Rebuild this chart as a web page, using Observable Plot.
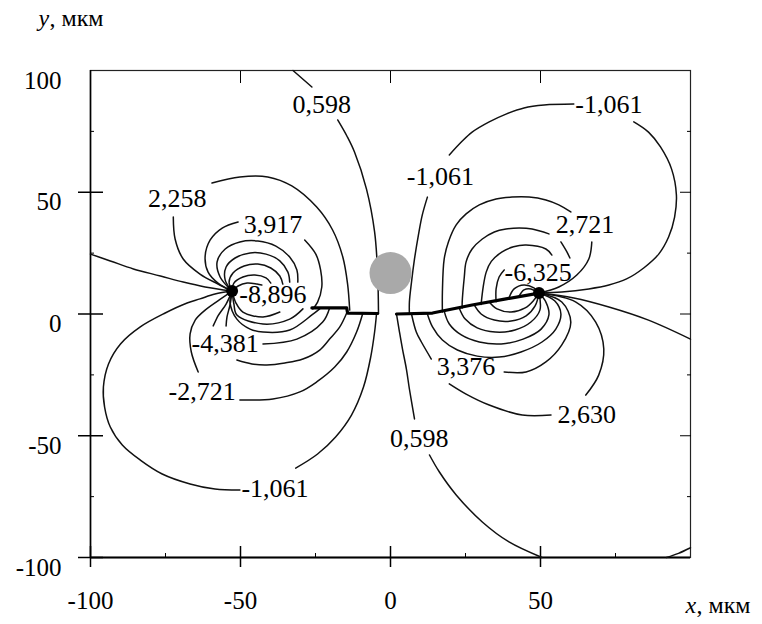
<!DOCTYPE html>
<html><head><meta charset="utf-8">
<script src="https://cdn.jsdelivr.net/npm/d3@7"></script>
<script src="https://cdn.jsdelivr.net/npm/@observablehq/plot@0.6"></script>
<style>body{margin:0;background:#fff}</style>
</head><body><div id="chart"></div>
<script>
// ---- tick values ----
const xTicks = [-100, -50, 0, 50];
const yTicks = [-100, -50, 0, 50, 100];
const crossTicksX = [-100, -50, 0, 50];
const crossTicksY = [-100, -50, 0, 50];
const innerTicks = [-50, 0, 50];
const minorTicks = [-75, -25, 25, 75];

// ---- singular points (crack tips) and inclusion ----
const tipX = [-52.8, 49.5];
const tipY = [9.4, 8.6];
const inclusionX = [0];
const inclusionY = [16.8];

// ---- crack lines (µm) ----
const crackLeft = [[-26.2,2.5],[-14.6,2.5],[-14.3,0.4],[-4.3,0.2]];
const crackRight = [[2.0,0],[14.0,0.4],[27.2,3.7],[38.5,6.2],[49.5,8.6]];

// ---- isolines (µm) ----
const line0598TopA = [[-32.5,100],[-26.2,93.2]];
const line0598TopB = [[-17.6,79.7],[-14.5,73],[-12,66.5],[-8,51.3],[-5.3,33.7],[-4.3,17.2],[-4,0.2]];
const lineLeftFrame = [[-100,24.6],[-93.4,21.8],[-85.7,18.5],[-76.7,15.6],[-69.1,13.1],[-61.8,11.1],[-52.8,9.4]];
const line2258A = [[-72.4,39.8],[-71.8,30.8],[-69.1,22.6],[-63.5,16.4],[-57.5,12.3],[-52.8,9.4]];
const line2258B = [[-59.5,53.8],[-50.2,56.3],[-40.9,56.3],[-32.9,52.6],[-24.6,43.9],[-19.3,34.5],[-15.9,23.4],[-14.3,12.3],[-13.6,1.6]];
const line3917A = [[-50.8,37.8],[-56.1,35.3],[-60.1,30.4],[-61.8,23.4],[-60.8,17.2],[-57.5,12.7],[-52.8,9.4]];
const line3917B = [[-28.6,30.4],[-24.9,24.6],[-23.3,18.1],[-22.9,11.1],[-24.3,4.9],[-25.9,2.1]];
const arcUL1 = [[-52.8,9.4],[-56.8,15.2],[-57.8,21.4],[-55.1,26.7],[-50.2,29.6],[-44.2,30.0],[-38.2,27.9],[-33.6,23.4],[-31.2,18.1],[-30.9,13.1]];
const arcUL2 = [[-52.8,9.4],[-55.1,13.9],[-54.8,19.3],[-51.8,23.0],[-46.8,25.1],[-41.5,24.6],[-36.9,21.8],[-34.2,17.2],[-33.6,13.1]];
const arcUL3 = [[-52.8,9.4],[-53.8,13.1],[-52.5,16.8],[-48.8,19.7],[-44.2,20.5],[-39.9,18.9],[-36.9,15.6],[-35.9,12.3]];
const arcUL4 = [[-52.8,9.4],[-52.2,12.7],[-49.2,15.2],[-45.2,16.0],[-41.5,14.8],[-39.9,12.7]];
const arcUL5 = [[-52.8,9.4],[-50.8,11.5],[-47.8,12.7],[-44.5,12.3],[-42.9,11.9]];
const line1061LA = [[-52.8,9.4],[-58.5,8.2],[-63.5,6.2],[-67.8,4.5],[-75.1,0.4],[-83.4,-5.3],[-90.0,-12.3],[-94.0,-20.5],[-95.7,-30.0],[-95.3,-38.2],[-93.4,-46.4],[-89.4,-53.8],[-83.4,-60.0],[-76.1,-65.7],[-66.8,-69.8],[-58.5,-71.9],[-50.2,-72.3]];
const line1061LB = [[-31.6,-63.3],[-24.3,-57.5],[-18.3,-50.5],[-13.0,-41.5],[-9.0,-30.0],[-6.6,-17.7],[-5.3,-7.4],[-4.7,-0.4]];
const line2721LA = [[-52.8,9.4],[-56.1,6.6],[-61.8,1.6],[-65.1,-2.5],[-66.8,-8.2],[-66.4,-15.6],[-64.1,-23.8]];
const line2721LB = [[-50.2,-35.3],[-39.2,-34.9],[-30.2,-32.0],[-24.6,-27.9],[-18.6,-21.8],[-14.6,-15.6],[-11.3,-7.4],[-9.3,0]];
const line4381LA = [[-52.8,9.4],[-54.8,4.1],[-57.5,-0.8],[-59.1,-4.9]];
const line4381LB = [[-42.5,-12.3],[-31.2,-10.3],[-22.6,-3.3],[-20.3,2.5]];
const arcLL1A = [[-52.8,9.4],[-53.5,3.7],[-54.5,-1.2],[-54.8,-4.9]];
const arcLL1B = [[-51.2,-18.9],[-46.2,-20.5],[-41.2,-20.9],[-35.2,-20.1],[-29.2,-18.5],[-23.6,-14.8],[-20.3,-10.3],[-16.9,-5.3],[-14.6,0.4]];
const arcLL2 = [[-52.8,9.4],[-53.5,4.9],[-51.2,-2.1],[-46.8,-6.2],[-42.5,-7.4],[-33.6,-6.6],[-26.2,-0.4],[-23.6,2.1]];
const arcLL3 = [[-52.8,9.4],[-52.2,4.1],[-51.2,-0.4],[-42.5,-4.1],[-33.6,-2.1],[-29.2,2.1]];
const arcLL4 = [[-52.8,9.4],[-51.5,4.5],[-49.2,0.8],[-42.5,-1.2],[-36.9,0.8]];
const line1061RA = [[6.3,0],[6.3,4.9],[7.0,13.1],[8.0,22.6],[9.3,32.4],[10.6,40.7],[12.3,48.0]];
const line1061RB = [[19.6,65.3],[23.6,70.6],[27.2,74.7],[32.9,78.9],[38.5,82.1],[44.5,84.6],[51.2,85.8],[61.1,86.2]];
const line1061RC = [[81.1,78.9],[86.0,74.7],[90.0,68.6],[93.7,59.5],[95.3,48.9],[94.7,39.8],[92.7,31.6],[89.4,24.6],[84.4,18.9],[78.7,14.4],[72.8,11.9],[66.1,10.3],[57.1,9.0],[49.5,8.6]];
const line2721RA = [[17.3,0.8],[17.3,9.0],[17.9,22.6],[19.3,29.6],[21.9,36.6],[25.2,41.1],[29.6,44.8],[35.2,47.2],[40.5,48.0],[46.2,48.0],[51.8,46.8],[56.1,44.8],[60.1,41.9]];
const line2721RB = [[67.1,29.6],[66.1,22.6],[62.1,16.0],[56.1,11.1],[49.5,8.6]];
const arcUR3A = [[23.9,2.5],[23.9,4.9],[24.6,15.2],[25.2,21.4],[27.2,26.7],[30.6,30.8],[34.6,33.7],[38.5,34.9],[42.9,35.3],[47.2,34.9],[52.8,32.9]];
const arcUR3B = [[56.8,29.6],[58.8,25.5],[59.8,23.0]];
const arcUR4 = [[30.2,3.9],[30.9,11.1],[31.9,17.2],[33.6,21.6],[37.2,25.5],[41.0,27.6],[45.2,28.3],[51.8,26.7],[53.8,24.2]];
const arcUR5 = [[35.2,5.0],[35.2,10.3],[36.2,15.2],[37.9,18.1]];
const arcUR6 = [[39.5,6.6],[41.2,10.3],[44.5,11.9],[47.8,10.7],[49.5,8.6]];
const arcUR7 = [[42.9,7.4],[44.5,9.9],[46.8,10.3],[48.8,9.0]];
const line0598LowA = [[2.0,0],[3.0,-7.4],[4.0,-14.4],[5.3,-22.6],[6.3,-30.8],[8.0,-43.1]];
const line0598LowB = [[13.0,-57.9],[16.3,-64.9],[21.9,-74.3],[30.6,-85.4],[39.5,-93.6],[50.5,-100]];
const line3376A = [[7.0,0],[8.6,-7.4],[10.3,-11.5],[13.6,-18.5]];
const line3376B = [[37.9,-23.8],[45.2,-23.8],[51.8,-19.7],[57.1,-12.7],[60.1,-3.3],[57.1,4.9],[49.5,8.6]];
const line2630A = [[19.6,-28.7],[25.2,-32.9],[32.9,-37.4],[43.9,-41.5],[53.5,-41.5]];
const line2630B = [[65.1,-33.3],[69.4,-25.1],[71.1,-14.4],[68.4,-3.3],[61.8,4.9],[49.5,8.6]];
const arcLR1 = [[12.3,0],[14.0,-5.3],[17.3,-10.7],[22.3,-14.8],[28.9,-17.3],[36.2,-17.7],[43.5,-15.6],[50.5,-11.5],[55.1,-6.2],[56.8,0],[54.8,5.3],[49.5,8.6]];
const arcLR2 = [[17.9,1.2],[19.6,-4.1],[23.6,-8.6],[29.6,-11.5],[36.9,-12.3],[44.2,-10.3],[50.2,-6.2],[52.8,-0.4],[51.8,4.9],[49.5,8.6]];
const arcLR3 = [[22.9,2.5],[24.9,-2.1],[28.9,-5.7],[34.9,-7.4],[41.5,-6.6],[46.8,-3.3],[49.8,1.6],[49.5,8.6]];
const arcLR4 = [[27.9,3.7],[30.2,0],[34.6,-2.5],[40.2,-2.9],[45.2,-0.8],[48.2,3.3],[49.5,8.6]];
const arcLR5 = [[32.9,4.9],[35.5,2.1],[40.2,0.8],[44.9,2.5],[47.8,5.7],[49.5,8.6]];
const lineRightFrame = [[49.5,8.6],[61.1,6.6],[72.8,2.9],[86.0,-2.5],[100,-10.3]];
const lineCorner = [[92,-100],[96,-98.3],[100,-96]];

// ---- isoline labels ----
const labelText = ["0,598","-1,061","-1,061","2,258","3,917","2,721","-6,325","-8,896","-4,381","3,376","-2,721","2,630","0,598","-1,061"];
const labelX = [-22.9, 72.8, 16.6, -71.1, -39.2, 64.8, 49.2, -39.2, -55.1, 25.2, -62.8, 65.4, 9.6, -38.5];
const labelY = [85.8, 85.8, 56.3, 47.2, 36.6, 36.6, 16.8, 7.8, -12.3, -21.8, -32.0, -41.5, -51.3, -71.9];

// ---- build tables ----
const isolines = [line0598TopA, line0598TopB, lineLeftFrame, line2258A, line2258B, line3917A, line3917B,
  arcUL1, arcUL2, arcUL3, arcUL4, arcUL5, line1061LA, line1061LB, line2721LA, line2721LB, line4381LA, line4381LB,
  arcLL1A, arcLL1B, arcLL2, arcLL3, arcLL4, line1061RA, line1061RB, line1061RC, line2721RA, line2721RB,
  arcUR3A, arcUR3B, arcUR4, arcUR5, arcUR6, arcUR7, line0598LowA, line0598LowB, line3376A, line3376B,
  line2630A, line2630B, arcLR1, arcLR2, arcLR3, arcLR4, arcLR5, lineRightFrame, lineCorner];
const lineRows = isolines.flatMap((pts, id) => pts.map(([x, y]) => ({id, x, y})));
const crackRows = [crackLeft, crackRight].flatMap((pts, id) => pts.map(([x, y]) => ({id, x, y})));
const labels = labelText.map((t, i) => ({t, x: labelX[i], y: labelY[i]}));
const tips = tipX.map((x, i) => ({x, y: tipY[i]}));
const inclusion = inclusionX.map((x, i) => ({x, y: inclusionY[i]}));

const FONT = "Liberation Serif";
const plain = d => String(d);

const chart = Plot.plot({
  width: 762, height: 624,
  marginLeft: 90, marginRight: 72, marginTop: 70, marginBottom: 67,
  x: {domain: [-100, 100]},
  y: {domain: [-100, 100]},
  marks: [
    Plot.frame({stroke: "#222", strokeWidth: 1.2}),
    // tick labels
    Plot.axisX(xTicks, {anchor: "bottom", tickSize: 0, tickPadding: 34, fontSize: 25, fontFamily: FONT, fontVariant: "normal", tickFormat: plain, label: null, fill: "#000"}),
    Plot.axisY(yTicks, {anchor: "left", tickSize: 0, tickPadding: 29, fontSize: 25, fontFamily: FONT, fontVariant: "normal", tickFormat: plain, dy: 10, label: null, fill: "#000"}),
    // crossing ticks
    Plot.axisX(crossTicksX, {anchor: "bottom", tickSize: 10, fill: "none", stroke: "#000", strokeWidth: 1.5, label: null}),
    Plot.axisX(crossTicksX, {anchor: "bottom", tickSize: -11, fill: "none", stroke: "#000", strokeWidth: 1.5, label: null}),
    Plot.axisY(crossTicksY, {anchor: "left", tickSize: 12, fill: "none", stroke: "#000", strokeWidth: 1.5, label: null}),
    Plot.axisY(crossTicksY, {anchor: "left", tickSize: -13, fill: "none", stroke: "#000", strokeWidth: 1.5, label: null}),
    Plot.axisX(innerTicks, {anchor: "top", tickSize: -12, fill: "none", stroke: "#000", label: null}),
    Plot.axisY(innerTicks, {anchor: "right", tickSize: -11, fill: "none", stroke: "#000", label: null}),
    Plot.axisY(minorTicks, {anchor: "left", tickSize: -4, fill: "none", stroke: "#000", label: null}),
    Plot.axisY(minorTicks, {anchor: "right", tickSize: -4, fill: "none", stroke: "#000", label: null}),
    Plot.axisX(minorTicks, {anchor: "bottom", tickSize: -4, fill: "none", stroke: "#000", label: null}),
    // thicker bottom and left frame lines
    Plot.ruleY([-100], {stroke: "#000", strokeWidth: 2}),
    Plot.ruleX([-100], {stroke: "#000", strokeWidth: 1.6}),
    // isolines
    Plot.line(lineRows, {x: "x", y: "y", z: "id", curve: "catmull-rom", stroke: "#111", strokeWidth: 1.5}),
    // cracks
    Plot.line(crackRows, {x: "x", y: "y", z: "id", stroke: "#000", strokeWidth: 3.2}),
    Plot.dot(tips, {x: "x", y: "y", r: 6, fill: "#000"}),
    // inclusion
    Plot.dot(inclusion, {x: "x", y: "y", r: 21, fill: "#a9a9a9"}),
    // labels
    Plot.text(labels, {x: "x", y: "y", text: "t", fontSize: 26, fontFamily: FONT, fill: "#000"}),
    // axis titles
    Plot.text(["y"], {frameAnchor: "top-left", dx: -52, dy: -52, textAnchor: "start", lineAnchor: "middle", fontStyle: "italic", fontSize: 24, fontFamily: FONT}),
    Plot.text([", мкм"], {frameAnchor: "top-left", dx: -41, dy: -52, textAnchor: "start", lineAnchor: "middle", fontSize: 24, fontFamily: FONT}),
    Plot.text(["x"], {frameAnchor: "bottom-right", dx: -5, dy: 48, textAnchor: "start", lineAnchor: "middle", fontStyle: "italic", fontSize: 24, fontFamily: FONT}),
    Plot.text([", мкм"], {frameAnchor: "bottom-right", dx: 6, dy: 48, textAnchor: "start", lineAnchor: "middle", fontSize: 24, fontFamily: FONT})
  ]
});
chart.setAttribute("font-family", FONT);
d3.select(chart).selectAll("g[aria-label], text").attr("font-family", FONT).style("font-family", FONT);
document.getElementById("chart").append(chart);
</script></body></html>
